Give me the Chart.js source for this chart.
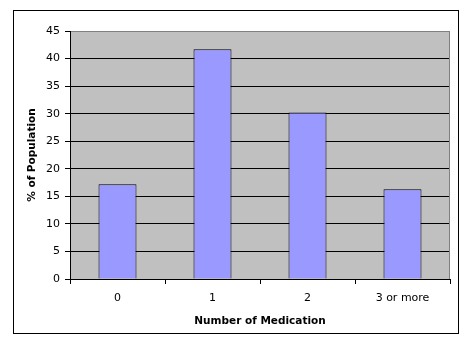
<!DOCTYPE html>
<html>
<head>
<meta charset="utf-8">
<script src="https://cdn.jsdelivr.net/npm/chart.js@4/dist/chart.umd.min.js"></script>
<style>
html,body{margin:0;padding:0;background:#fff;}
#wrap{width:470px;height:355px;position:relative;}
</style>
</head>
<body>
<div id="wrap"><canvas id="c" width="470" height="355"></canvas></div>
<script>
const categories = ['0', '1', '2', '3 or more'];
const populationPct = [17.2, 41.7, 30.2, 16.3];
const yTicks = [0, 5, 10, 15, 20, 25, 30, 35, 40, 45];
const xTitle = 'Number of Medication';
const yTitle = '% of Population';

const FONT = "'DejaVu Sans', Verdana, sans-serif";

const framePlugin = {
  id: 'frame',
  beforeDraw(chart) {
    const ctx = chart.ctx;
    const a = chart.chartArea;
    ctx.save();
    ctx.fillStyle = '#fff';
    ctx.fillRect(0, 0, chart.width, chart.height);
    ctx.strokeStyle = '#000';
    ctx.lineWidth = 1;
    ctx.strokeRect(13.5, 10.5, 445, 323);
    ctx.fillStyle = '#C0C0C0';
    ctx.fillRect(a.left, a.top, a.right - a.left, a.bottom - a.top);
    ctx.restore();
  },
  beforeDatasetsDraw(chart) {
    const ctx = chart.ctx;
    const a = chart.chartArea;
    ctx.save();
    ctx.strokeStyle = '#808080';
    ctx.lineWidth = 1;
    ctx.beginPath();
    ctx.moveTo(Math.round(a.right) - 0.5, a.top);
    ctx.lineTo(Math.round(a.right) - 0.5, a.bottom);
    ctx.stroke();
    ctx.restore();
  }
};

new Chart(document.getElementById('c'), {
  type: 'bar',
  data: {
    labels: categories,
    datasets: [{
      data: populationPct,
      backgroundColor: '#9999FF',
      borderColor: '#000',
      borderWidth: 1,
      barPercentage: 0.4,
      categoryPercentage: 1.0
    }]
  },
  options: {
    responsive: false,
    animation: false,
    events: [],
    layout: { padding: { left: 13, right: 20, top: 31, bottom: 20 } },
    plugins: { legend: { display: false }, tooltip: { enabled: false } },
    scales: {
      x: {
        offset: true,
        grid: { display: true, drawOnChartArea: false, drawTicks: true, tickLength: 5, color: '#000', offset: true },
        border: { display: true, color: '#000', width: 1 },
        ticks: { color: '#000', font: { family: FONT, size: 11 }, padding: 8, maxRotation: 0 },
        title: { display: true, text: xTitle, color: '#000', font: { family: FONT, size: 10.5, weight: 'bold' }, padding: { top: 0, bottom: 7 } },
        afterFit(s) { s.height = 56; }
      },
      y: {
        min: 0, max: 45,
        afterBuildTicks(s) { s.ticks = yTicks.map(v => ({ value: v })); },
        grid: {
          color: (c) => (c.tick && c.tick.value === 45) ? '#808080' : '#000',
          tickColor: '#000',
          lineWidth: 1, tickLength: 5, drawTicks: true
        },
        border: { display: true, color: '#000', width: 1 },
        ticks: { color: '#000', font: { family: FONT, size: 11 }, padding: 5 },
        title: { display: true, text: yTitle, color: '#000', font: { family: FONT, size: 10.5, weight: 'bold' }, padding: { top: 13, bottom: 0 } },
        afterFit(s) { s.width = 57; }
      }
    }
  },
  plugins: [framePlugin]
});
</script>
</body>
</html>
